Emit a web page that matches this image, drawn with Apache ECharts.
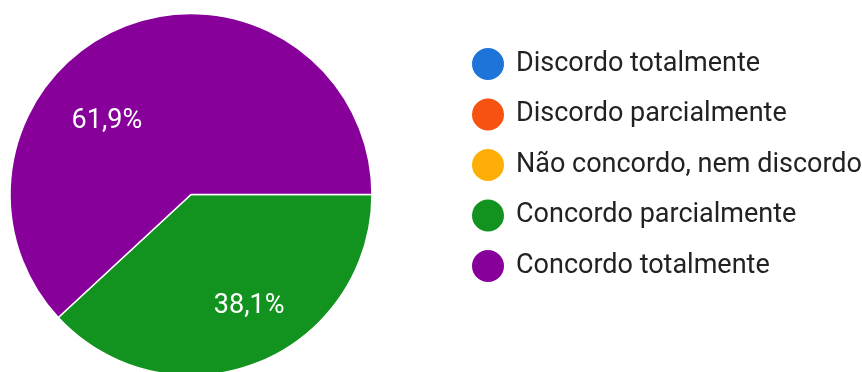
<!DOCTYPE html>
<html>
<head>
<meta charset="utf-8">
<script src="https://cdn.jsdelivr.net/npm/echarts@6/dist/echarts.min.js"></script>
<style>
  html, body { margin: 0; padding: 0; background: #ffffff; }
  #chart { width: 862px; height: 372px; }
</style>
</head>
<body>
<div id="chart"></div>
<script>
// Answer options and their share of responses (%)
const categories = [
  'Discordo totalmente',
  'Discordo parcialmente',
  'Não concordo, nem discordo',
  'Concordo parcialmente',
  'Concordo totalmente'
];
const percentages = [0, 0, 0, 38.1, 61.9];
const colors = ['#1e74d9', '#f85210', '#fdaf08', '#12921f', '#87009a'];

// Nudges for the in-slice percentage labels
const labelOffsets = {
  'Concordo parcialmente': [24, 25],
  'Concordo totalmente': [-50, 14]
};

const fontFamily = 'Roboto, "Liberation Sans", Arial, sans-serif';

const data = categories.map((name, i) => ({
  name: name,
  value: percentages[i],
  itemStyle: { color: colors[i] },
  label: { offset: labelOffsets[name] || [0, 0] }
}));

const chart = echarts.init(document.getElementById('chart'), null, { renderer: 'canvas' });
chart.setOption({
  animation: false,
  backgroundColor: '#ffffff',
  legend: {
    orient: 'vertical',
    left: 465,
    top: 41,
    icon: 'circle',
    itemWidth: 34,
    itemHeight: 34,
    itemGap: 14.5,
    selectedMode: false,
    data: categories,
    textStyle: {
      fontFamily: fontFamily,
      fontSize: 27,
      lineHeight: 30,
      color: '#222222',
      padding: [0, 0, 0, 6]
    }
  },
  series: [{
    type: 'pie',
    center: [191, 194.5],
    radius: 181,
    startAngle: 0,
    clockwise: true,
    avoidLabelOverlap: false,
    stillShowZeroSum: false,
    itemStyle: { borderColor: '#ffffff', borderWidth: 1.5 },
    label: {
      show: true,
      position: 'inside',
      fontFamily: fontFamily,
      fontSize: 27,
      color: '#ffffff',
      formatter: p => p.value > 0 ? p.value.toFixed(1).replace('.', ',') + '%' : ''
    },
    labelLine: { show: false },
    emphasis: { disabled: true },
    data: data
  }]
});
</script>
</body>
</html>
